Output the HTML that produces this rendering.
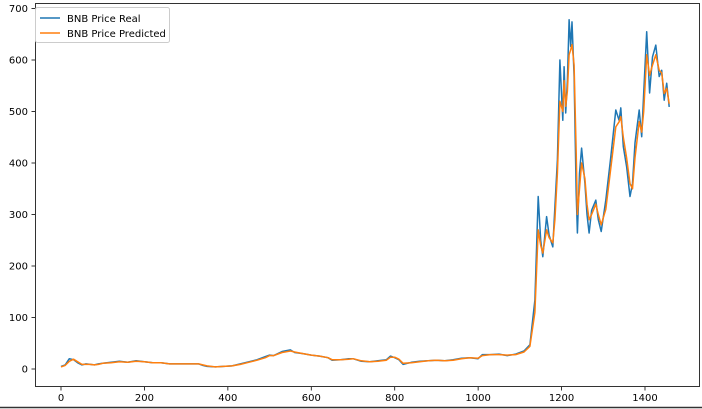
<!DOCTYPE html>
<html><head><meta charset="utf-8"><style>
body{margin:0;background:#fff;}
svg{display:block;font-family:"DejaVu Sans","Liberation Sans",sans-serif;}
</style></head><body>
<svg id="chart" width="702" height="409" viewBox="0 0 702 409">
<rect x="35.5" y="3.5" width="664" height="383" fill="none" stroke="#000" stroke-width="0.8"/>
<g id="xticks"></g>
<g id="yticks"></g>
<g id="series"></g>
<line x1="0" y1="407.5" x2="702" y2="407.5" stroke="#333" stroke-width="1.5"/>
<g>
<rect x="35.5" y="7.5" width="134" height="35" fill="#fff" stroke="#ccc" rx="2"/>
<line x1="40" y1="18" x2="60" y2="18" stroke="#1f77b4" stroke-width="1.5"/>
<text x="67" y="22" font-size="10">BNB Price Real</text>
<line x1="40" y1="33" x2="60" y2="33" stroke="#ff7f0e" stroke-width="1.5"/>
<text x="67" y="37" font-size="10">BNB Price Predicted</text>
</g>
</svg>
<script>
const xTicks=[0,200,400,600,800,1000,1200,1400];
const yTicks=[0,100,200,300,400,500,600,700];
const days=[0,10,20,30,40,50,60,70,80,90,100,120,140,160,180,200,220,240,260,280,300,330,340,350,370,390,410,430,450,470,490,500,510,530,550,560,580,600,620,640,650,670,690,700,720,740,760,780,790,800,810,820,840,860,880,900,920,940,960,980,1000,1010,1030,1050,1070,1090,1110,1124,1136,1144,1150,1155,1164,1170,1179,1184,1190,1196,1203,1206,1210,1214,1218,1222,1225,1230,1235,1238,1243,1248,1256,1261,1266,1272,1282,1288,1295,1306,1318,1330,1338,1342,1348,1356,1364,1370,1376,1386,1392,1397,1404,1411,1418,1426,1434,1440,1446,1452,1458];
const realPrice=[5,8,20,18,12,8,10,9,8,10,11,13,15,13,16,14,12,12,10,10,10,10,7,5,4,5,6,10,14,18,24,27,26,34,37,32,30,27,25,22,17,18,20,20,15,14,16,18,25,22,18,9,13,15,16,17,16,18,21,22,20,28,28,29,26,29,35,47,134,335,250,218,296,260,237,315,406,600,483,587,497,560,678,626,674,568,341,264,380,429,361,300,264,308,328,290,267,328,412,503,483,507,432,393,335,360,439,503,451,536,655,536,606,629,568,580,522,555,509];
const predPrice=[4,7,15,19,14,9,9,9,8,9,11,12,14,13,15,14,12,12,10,10,10,10,8,6,4,5,6,9,13,17,22,26,26,32,35,33,30,27,25,22,18,18,19,20,16,14,15,17,23,23,19,11,12,14,16,17,16,17,20,22,21,26,28,28,27,28,33,44,110,270,240,225,270,255,245,290,380,520,500,560,510,540,610,620,630,590,420,300,350,400,370,320,290,300,320,300,280,310,390,470,480,490,450,410,360,350,410,480,460,500,610,570,590,610,580,575,535,545,515];
const X=v=>61+v*0.41714, Y=v=>369-v*0.515;
const ns="http://www.w3.org/2000/svg";
const xg=document.getElementById('xticks'), yg=document.getElementById('yticks'), sg=document.getElementById('series');
function mk(t,a){const e=document.createElementNS(ns,t);for(const k in a)e.setAttribute(k,a[k]);return e;}
xTicks.forEach(v=>{
 const l=mk('line',{x1:X(v),x2:X(v),y1:387,y2:390.5,stroke:'#000','stroke-width':0.8});
 
 
 xg.appendChild(l);
 const t=mk('text',{x:X(v),y:401,'font-size':10,'text-anchor':'middle'});t.textContent=v;
 
 
 xg.appendChild(t);
});
yTicks.forEach(v=>{
 const l=mk('line',{x1:31.5,x2:35,y1:Y(v),y2:Y(v),stroke:'#000','stroke-width':0.8});
 
 
 yg.appendChild(l);
 const t=mk('text',{x:28,y:Y(v)+3.5,'font-size':10,'text-anchor':'end'});t.textContent=v;
 
 
 yg.appendChild(t);
});
function path(vals,color,name){
 const d=vals.map((v,i)=>(i?'L':'M')+X(days[i]).toFixed(1)+','+Y(v).toFixed(1)).join('');
 const p=mk('path',{d:d,fill:'none',stroke:color,'stroke-width':1.5,'stroke-linejoin':'round'});
 
 
 sg.appendChild(p);
}
path(realPrice,'#1f77b4','real-price-line');
path(predPrice,'#ff7f0e','predicted-price-line');
</script>
</body></html>
